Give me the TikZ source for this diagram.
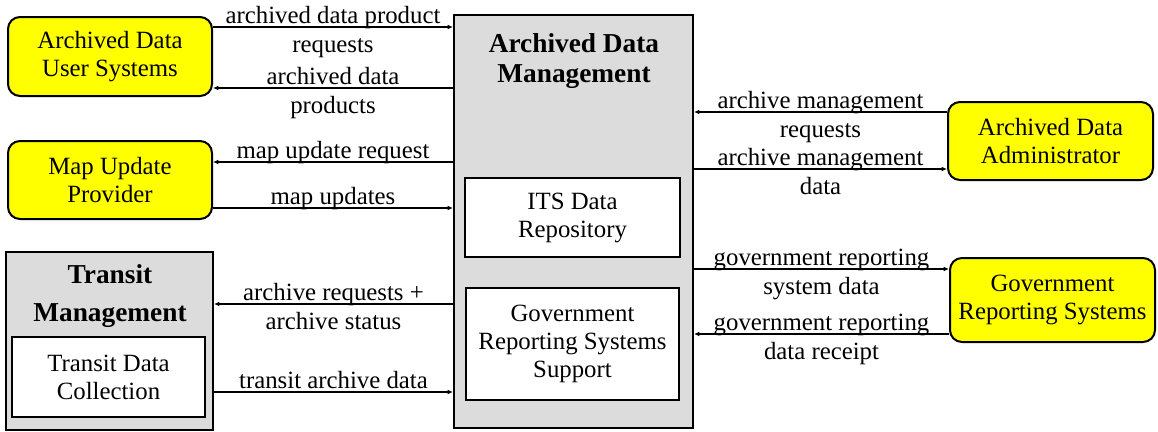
\documentclass[tikz,border=0pt]{standalone}
\usepackage{fontspec}
\setmainfont{Liberation Serif}
\newfontfamily\diagfont{Liberation Serif}
\usetikzlibrary{arrows.meta}
\definecolor{boxgray}{HTML}{DCDCDC}
\definecolor{extyellow}{HTML}{FFFF00}
\begin{document}
\begin{tikzpicture}[x=0.75pt,y=-0.75pt,
 every node/.style={font=\diagfont\fontsize{18.6}{21}\selectfont, inner sep=0pt},
 ext/.style={draw, line width=1.5pt, fill=extyellow, rounded corners=9pt, align=center, minimum width=153pt},
 sub/.style={draw, line width=1.5pt, fill=boxgray},
 inner/.style={draw, line width=1.5pt, fill=white, align=center},
 title/.style={align=center, font=\diagfont\fontsize{20.5}{22.5}\selectfont\bfseries},
 arr/.style={line width=1.2pt, -{Latex[length=4pt,width=3.5pt]}},
 toplab/.style={midway, anchor=base, yshift=3pt},
 botlab/.style={midway, anchor=base, yshift=-18.75pt}]
\useasboundingbox (0,0) rectangle (1158,432);

% external systems
\node[ext, minimum height=59.25pt] (adus) at (110,56.5) {Archived Data\\User Systems};
\node[ext, minimum height=58.5pt] (mup) at (110,180) {Map Update\\Provider};
\node[ext, minimum width=153.75pt, minimum height=58.5pt] (ada) at (1050.5,141) {Archived Data\\Administrator};
\node[ext, minimum width=153.75pt, minimum height=63pt] (grs) at (1052.5,300) {Government\\Reporting Systems};

% transit management
\node[sub, minimum width=155.25pt, minimum height=133.5pt] (tm) at (109.5,341) {};
\node[title, font=\diagfont\fontsize{20.5}{28.5}\selectfont\bfseries] (tmt) at (110,296) {Transit\\Management};
\node[inner, minimum width=144.75pt, minimum height=60pt] (tdc) at (108.5,377) {Transit Data\\Collection};

% archived data management
\node[sub, minimum width=179.25pt, minimum height=309.75pt] (adm) at (573.5,221.5) {};
\node[title] (admt) at (574,61) {Archived Data\\Management};
\node[inner, minimum width=161.25pt, minimum height=59.25pt] (its) at (572.5,217.5) {ITS Data\\Repository};
\node[inner, minimum width=159.75pt, minimum height=84pt] (grss) at (572.5,344) {Government\\Reporting Systems\\Support};

% flows, left side
\draw[arr] (adus.east |- 0,27) -- (adm.west |- 0,27)
  node[toplab] {archived data product} node[botlab] {requests};
\draw[arr] (adm.west |- 0,88) -- (adus.east |- 0,88)
  node[toplab] {archived data} node[botlab] {products};
\draw[arr] (adm.west |- 0,162) -- (mup.east |- 0,162)
  node[toplab] {map update request};
\draw[arr] (mup.east |- 0,208) -- (adm.west |- 0,208)
  node[toplab] {map updates};
\draw[arr] (adm.west |- 0,304) -- (tm.east |- 0,304)
  node[toplab] {archive requests +} node[botlab] {archive status};
\draw[arr] (tm.east |- 0,392) -- (adm.west |- 0,392)
  node[toplab] {transit archive data};

% flows, right side
\draw[arr] (ada.west |- 0,112) -- (adm.east |- 0,112)
  node[toplab] {archive management} node[botlab] {requests};
\draw[arr] (adm.east |- 0,169) -- (ada.west |- 0,169)
  node[toplab] {archive management} node[botlab] {data};
\draw[arr] (adm.east |- 0,269) -- (grs.west |- 0,269)
  node[toplab] {government reporting} node[botlab] {system data};
\draw[arr] (grs.west |- 0,334) -- (adm.east |- 0,334)
  node[toplab] {government reporting} node[botlab] {data receipt};
\end{tikzpicture}
\end{document}
